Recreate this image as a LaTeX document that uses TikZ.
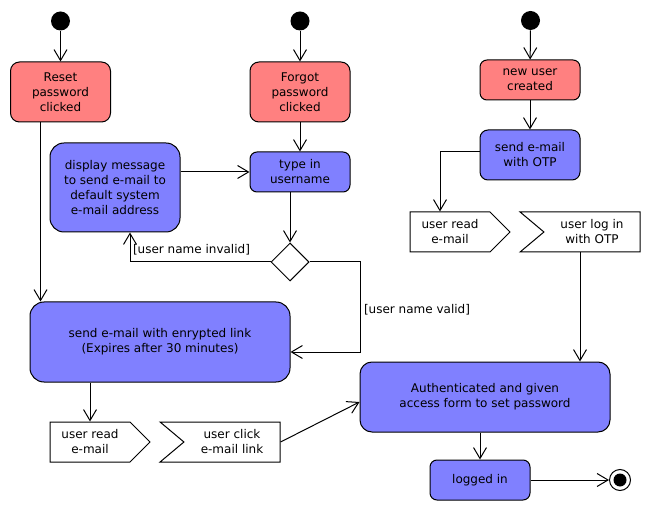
\documentclass[tikz,border=0pt]{standalone}
\usepackage{fontspec}
\setmainfont{DejaVu Sans}
\usepackage{tikz}
\usetikzlibrary{arrows.meta, positioning, shapes.geometric, shapes.symbols}
\definecolor{trigger}{RGB}{255,128,128}
\definecolor{action}{RGB}{128,128,255}

\begin{document}
\begin{tikzpicture}[x=1pt, y=-1pt, line width=1pt,
  every node/.style={font=\fontsize{12}{15}\selectfont, align=center},
  startdot/.style={circle, fill=black, minimum size=19pt, inner sep=0pt},
  stopdot/.style={circle, draw, fill=white, minimum size=21pt, inner sep=0pt,
    path picture={\fill[black] (path picture bounding box.center) circle[radius=6.5pt];}},
  trig/.style={draw, fill=trigger, rounded corners=9pt, minimum width=100pt, minimum height=60pt},
  act/.style={draw, fill=action, rounded corners=7pt, minimum width=100pt, minimum height=40pt},
  sendsig/.style={draw, shape=signal, signal to=east, signal pointer angle=90,
    minimum width=100pt, minimum height=40pt, inner sep=1pt},
  recvsig/.style={draw, shape=signal, signal from=west, signal to=nowhere, signal pointer angle=80,
    minimum width=120pt, minimum height=40pt, inner sep=1pt},
  choice/.style={draw, diamond, minimum size=38pt, inner sep=0pt},
  guard/.style={inner sep=0pt},
  flow/.style={-{Straight Barb[length=11pt, width=13pt]}},
]
  \useasboundingbox (0,0) rectangle (650,510);

  % left column: reset password
  \node[startdot] (s1) at (60.5,21) {};
  \node[trig] (reset) at (60.5,92) {Reset\\password\\clicked};
  \node[act, minimum width=130pt, minimum height=89pt, rounded corners=14pt] (display) at (115,187.5)
    {display message\\to send e-mail to\\default system\\e-mail address};
  \node[act, minimum width=260pt, minimum height=80pt, rounded corners=14pt] (sendlink) at (160,342)
    {send e-mail with enrypted link\\(Expires after 30 minutes)};
  \node[sendsig] (readL) at (90,442) {user read\\e-mail};
  \node[recvsig] (clickL) at (232,442) {user click\\e-mail link};

  % middle column: forgot password
  \node[startdot] (s2) at (300,21) {};
  \node[trig] (forgot) at (300,92) {Forgot\\password\\clicked};
  \node[act] (typein) at (300,172) {type in\\username};
  \node[choice] (check) at (290,262) {};
  \coordinate (validturn) at (360,262);
  \node[guard] (invalid) at (191.5,250) {[user name invalid]};
  \node[guard] (valid) at (417,310) {[user name valid]};

  % right column: new user
  \node[startdot] (s3) at (530.5,20.5) {};
  \node[trig, minimum height=40pt, rounded corners=7pt] (newuser) at (530,80) {new user\\created};
  \node[act, minimum height=50pt, rounded corners=8pt] (sendotp) at (530,155) {send e-mail\\with OTP};
  \node[sendsig] (readR) at (450,232) {user read\\e-mail};
  \node[recvsig] (loginR) at (592,232) {user log in\\with OTP};
  \node[act, minimum width=250pt, minimum height=70pt, rounded corners=12pt] (auth) at (485,397)
    {Authenticated and given\\access form to set password};
  \node[act] (logged) at (480,480) {logged in};
  \node[stopdot] (final) at (620,480) {};

  \draw[flow] (s1) -- (reset);
  \draw[flow] ([xshift=-20pt]reset.south) -- ([xshift=-20pt]reset.south |- sendlink.north);
  \draw[flow] (s2) -- (forgot);
  \draw[flow] (forgot) -- (typein);
  \draw[flow] (typein.west -| display.east) -- (typein.west);
  \draw[flow] (typein.south -| check.north) -- (check.north);
  \draw[flow] (check.west) -| ([xshift=15pt]display.south);
  \draw[flow] (check.east) -- (validturn) |- ([yshift=-10pt]sendlink.east);
  \draw[flow] (readL.north |- sendlink.south) -- (readL.north);
  \draw[flow] (clickL.east) -- ([yshift=-5pt]auth.west);
  \draw[flow] (s3) -- (newuser);
  \draw[flow] (newuser) -- (sendotp);
  \draw[flow] ([yshift=3pt]sendotp.west) -| ([xshift=-10pt]readR.north);
  \draw[flow] ([xshift=-12pt]loginR.south) -- ([xshift=-12pt]loginR.south |- auth.north);
  \draw[flow] (auth.south -| logged.north) -- (logged.north);
  \draw[flow] (logged) -- (final);
\end{tikzpicture}
\end{document}
